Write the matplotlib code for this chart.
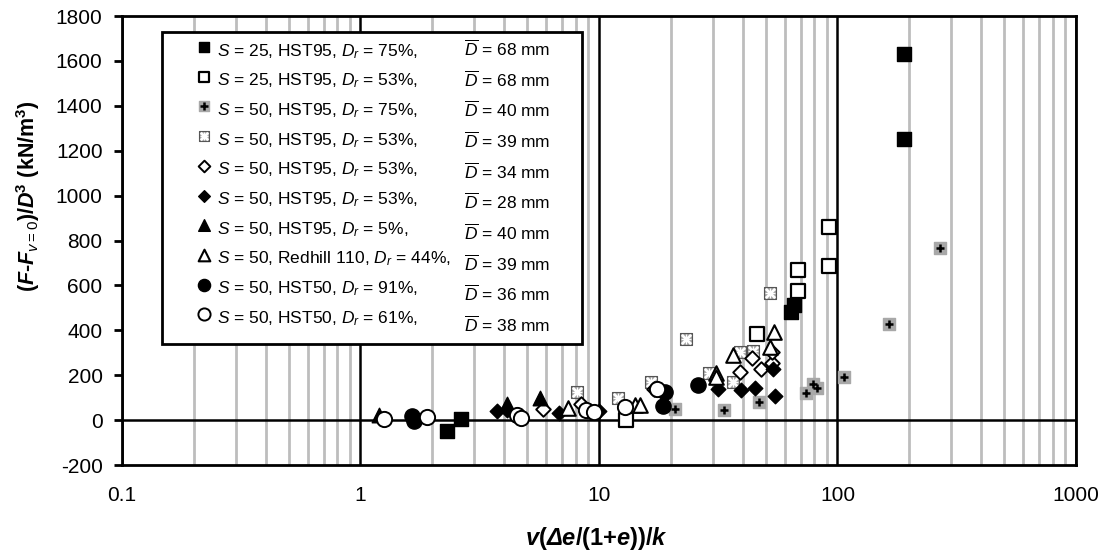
import numpy as np
import matplotlib
matplotlib.use("Agg")
import matplotlib.pyplot as plt
from matplotlib.ticker import LogLocator, NullFormatter, FixedLocator
from matplotlib.legend_handler import HandlerTuple

plt.rcParams['font.family'] = ['Liberation Sans', 'DejaVu Sans']
plt.rcParams['mathtext.fontset'] = 'custom'
plt.rcParams['mathtext.rm'] = 'Liberation Sans'
plt.rcParams['mathtext.it'] = 'Liberation Sans:italic'
plt.rcParams['mathtext.bf'] = 'Liberation Sans:bold'
plt.rcParams['mathtext.bfit'] = 'Liberation Sans:italic:bold'
plt.rcParams['axes.unicode_minus'] = False

# data  (x = v(de/(1+e))/k, y = (F-F0)/D^3)
sq_full_x = [2.3, 2.65, 64, 66, 190, 190]
sq_full_y = [-50, 5, 480, 515, 1630, 1250]

sq_open_x = [13, 46, 68, 68, 92, 92]
sq_open_y = [0, 383, 668, 575, 860, 686]

plus_x = [20.9, 33.3, 47, 73.5, 79, 82, 106, 165, 268]
plus_y = [49, 45, 82, 120, 162, 145, 192, 428, 768]

star_x = [8.1, 12, 16.6, 23.1, 29, 36.6, 39.2, 44.4, 52]
star_y = [125, 98, 169, 361, 209, 170, 303, 307, 565]

dia_open_x = [5.85, 8.4, 17, 38.9, 43.9, 47.8, 53, 53]
dia_open_y = [50, 70, 140, 214, 276, 227, 254, 303]

dia_full_x = [3.75, 4.1, 6.8, 10, 31.4, 39.5, 45, 54.5, 53.4]
dia_full_y = [40, 45, 31, 40, 140, 132, 143, 107, 227]

tri_full_x = [1.2, 4.1, 5.65]
tri_full_y = [25, 70, 100]

tri_open_x = [7.45, 14.2, 14.9, 30.9, 30.9, 36.6, 52.3, 54]
tri_open_y = [53, 67, 67, 209, 192, 290, 325, 392]

circ_full_x = [1.65, 1.68, 18.9, 18.6, 26.1]
circ_full_y = [20, -5, 127, 63, 156]

circ_open_x = [1.25, 1.9, 4.55, 4.7, 8.8, 9.5, 12.9, 17.5]
circ_open_y = [5, 13, 22, 9, 45, 36, 58, 140]

labels = [
    r"$S$ = 25, HST95, $D_r$ = 75%,",
    r"$S$ = 25, HST95, $D_r$ = 53%,",
    r"$S$ = 50, HST95, $D_r$ = 75%,",
    r"$S$ = 50, HST95, $D_r$ = 53%,",
    r"$S$ = 50, HST95, $D_r$ = 53%,",
    r"$S$ = 50, HST95, $D_r$ = 53%,",
    r"$S$ = 50, HST95, $D_r$ = 5%,",
    r"$S$ = 50, Redhill 110, $D_r$ = 44%,",
    r"$S$ = 50, HST50, $D_r$ = 91%,",
    r"$S$ = 50, HST50, $D_r$ = 61%,",
]
dbar = [68, 68, 40, 39, 34, 28, 40, 39, 36, 38]

fig = plt.figure(figsize=(11.08, 5.5), dpi=100)
ax = fig.add_axes([0.1101, 0.1545, 0.861, 0.8164])

ax.set_xscale('log')
ax.set_xlim(0.1, 1000)
ax.set_ylim(-200, 1800)

ax.xaxis.set_minor_locator(LogLocator(base=10, subs=np.arange(2, 10)))
ax.xaxis.set_minor_formatter(NullFormatter())
ax.yaxis.set_major_locator(FixedLocator(np.arange(-200, 1801, 200)))
ax.grid(True, axis='x', which='minor', color='#bdbdbd', lw=2)
ax.grid(True, axis='x', which='major', color='black', lw=1.8)
ax.axhline(0, color='black', lw=1.8, zorder=1)
ax.set_axisbelow(True)

for s in ax.spines.values():
    s.set_linewidth(2)
ax.tick_params(axis='x', which='both', length=0, pad=15, labelsize=15)
ax.tick_params(axis='y', length=6, width=2, pad=8, labelsize=15)
ax.set_xticks([0.1, 1, 10, 100, 1000])
ax.set_xticklabels(['0.1', '1', '10', '100', '1000'])

ms = 90
h = []
h.append(ax.scatter(sq_full_x, sq_full_y, s=ms, marker='s', c='black', zorder=3))
h.append(ax.scatter(sq_open_x, sq_open_y, s=ms, marker='s', facecolors='white',
                    edgecolors='black', linewidths=1.6, zorder=3))
p1 = ax.scatter(plus_x, plus_y, s=70, marker='s', c='#a8a8a8', zorder=3)
p2 = ax.scatter(plus_x, plus_y, s=40, marker='+', c='black', linewidths=1.8, zorder=3)
h.append((p1, p2))
s1 = ax.scatter(star_x, star_y, s=80, marker='s', c='#9a9a9a', edgecolors='#555555',
                linewidths=0.8, zorder=3)
s2 = ax.scatter(star_x, star_y, s=45, marker='x', c='white', linewidths=2, zorder=3)
s3 = ax.scatter(star_x, star_y, s=45, marker='+', c='white', linewidths=1, zorder=3)
h.append((s1, s2, s3))
h.append(ax.scatter(dia_open_x, dia_open_y, s=55, marker='D', facecolors='white',
                    edgecolors='black', linewidths=1.4, zorder=3))
h.append(ax.scatter(dia_full_x, dia_full_y, s=55, marker='D', c='black', zorder=3))
h.append(ax.scatter(tri_full_x, tri_full_y, s=110, marker='^', c='black', zorder=3))
h.append(ax.scatter(tri_open_x, tri_open_y, s=110, marker='^', facecolors='white',
                    edgecolors='black', linewidths=1.5, zorder=3))
h.append(ax.scatter(circ_full_x, circ_full_y, s=120, marker='o', c='black', zorder=3))
h.append(ax.scatter(circ_open_x, circ_open_y, s=120, marker='o', facecolors='white',
                    edgecolors='black', linewidths=1.4, zorder=3))

# legend: second column holds the D-bar texts with blank handles
blank = plt.Line2D([], [], linestyle='none', marker='none')
handles = h + [blank] * len(dbar)
texts = labels + [r"$\overline{D}$ = %d mm" % d + "\u00a0" * 6 for d in dbar]
leg = ax.legend(handles, texts, ncol=2, loc='upper left', bbox_to_anchor=(0.042, 0.965),
                borderaxespad=0, fontsize=12.5, frameon=True, fancybox=False,
                edgecolor='black', framealpha=1, handlelength=4.0, handletextpad=-1.25,
                handleheight=1.5, columnspacing=-2.0, labelspacing=0.49, borderpad=0.4,
                markerscale=0.8, scatteryoffsets=[0.42],
                handler_map={tuple: HandlerTuple(ndivide=1, pad=0)})
leg.get_frame().set_linewidth(2)
leg.set_zorder(5)

ax.set_xlabel(r"$\mathbfit{v}$($\mathbfit{Δe}$/(1+$\mathbfit{e}$))/$\mathbfit{k}$",
              fontsize=17, fontweight='bold')
ax.xaxis.set_label_coords(0.497, -0.134)
ax.set_ylabel(r"($\mathbfit{F}$-$\mathbfit{F}_{\mathit{v}\mathrm{=0}}$)/$\mathbfit{D}^{\mathbf{3}}$ (kN/m$^{\mathbf{3}}$)",
              fontsize=15.5, fontweight='bold')
ax.yaxis.set_label_coords(-0.084, 0.60)

fig.savefig('out.png', dpi=100)
